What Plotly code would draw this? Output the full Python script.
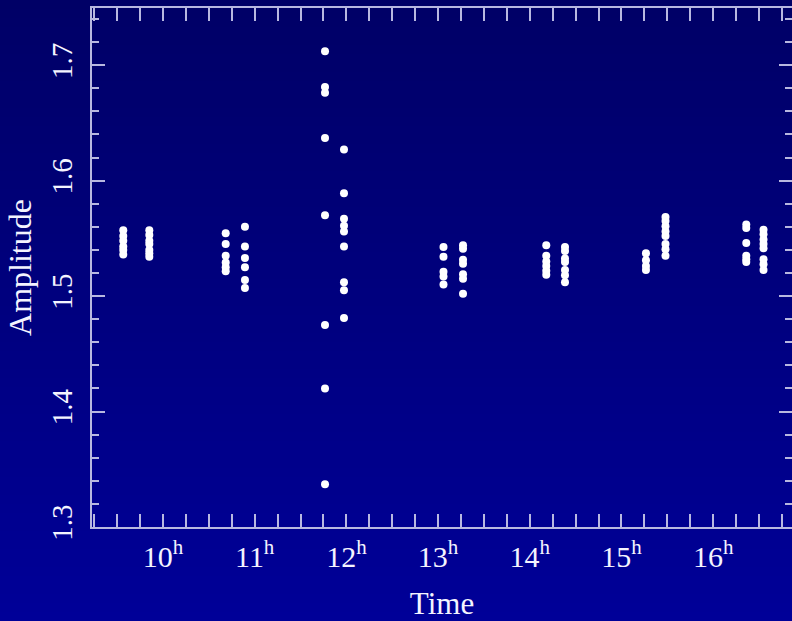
import plotly.graph_objects as go

# ---------------- data ----------------
col_times = [9.567, 9.851, 10.684, 10.894, 11.767, 11.974, 13.059,
             13.272, 14.180, 14.384, 15.267, 15.480, 16.361, 16.549]

amp_c1 = [1.557, 1.552, 1.548, 1.543, 1.540, 1.536]
amp_c2 = [1.557, 1.553, 1.548, 1.545, 1.540, 1.537, 1.534]
amp_c3 = [1.5545, 1.545, 1.535, 1.529, 1.525, 1.5215]
amp_c4 = [1.560, 1.543, 1.533, 1.525, 1.514, 1.507]
amp_c5 = [1.712, 1.681, 1.676, 1.637, 1.570, 1.475, 1.420, 1.337]
amp_c6 = [1.627, 1.589, 1.567, 1.561, 1.556, 1.543, 1.512, 1.505, 1.481]
amp_c7 = [1.5425, 1.534, 1.521, 1.517, 1.510]
amp_c8 = [1.544, 1.541, 1.5315, 1.528, 1.519, 1.515, 1.502]
amp_c9 = [1.544, 1.535, 1.530, 1.526, 1.522, 1.5185]
amp_c10 = [1.5425, 1.539, 1.5325, 1.5295, 1.5225, 1.518, 1.512]
amp_c11 = [1.537, 1.531, 1.526, 1.5225]
amp_c12 = [1.5685, 1.565, 1.5605, 1.556, 1.552, 1.545, 1.5405, 1.535]
amp_c13 = [1.562, 1.559, 1.546, 1.535, 1.532, 1.5295]
amp_c14 = [1.5575, 1.5535, 1.549, 1.545, 1.5415, 1.532, 1.5275, 1.5225]

amp_columns = [amp_c1, amp_c2, amp_c3, amp_c4, amp_c5, amp_c6, amp_c7,
               amp_c8, amp_c9, amp_c10, amp_c11, amp_c12, amp_c13, amp_c14]

hour_ticks = [10, 11, 12, 13, 14, 15, 16]
hour_text = [f"{h}<sup>h</sup>" for h in hour_ticks]

# ---------------- build figure ----------------
xs, ys = [], []
for t, amps in zip(col_times, amp_columns):
    for a in amps:
        xs.append(t)
        ys.append(a)

W, H = 792, 621
ML, MR, MT, MB = 92, 0, 8, 94
plot_h = H - MT - MB
plot_w = W - ML - MR
y_range = [1.3, 1.7495]

fig = go.Figure()
fig.add_trace(go.Scatter(
    x=xs, y=ys, mode="markers",
    marker=dict(size=8, color="white", line=dict(width=0)),
    hoverinfo="x+y", showlegend=False,
))
# empty trace so the right-hand tick-only axis is drawn
fig.add_trace(go.Scatter(x=[], y=[], yaxis="y2", showlegend=False,
                         hoverinfo="skip"))

# vertical background gradient (full page)
shapes = []
N = 69
top_b, bot_b = 0x66, 0x98
for i in range(N):
    py0 = H * i / N
    py1 = H * (i + 1) / N + 0.5
    f = (i + 0.5) / N
    b = round(top_b + (bot_b - top_b) * f)
    shapes.append(dict(
        type="rect", xref="paper", yref="paper", layer="below",
        x0=-ML / plot_w - 0.01, x1=1.01,
        y0=(H - MB - py1) / plot_h, y1=(H - MB - py0) / plot_h,
        fillcolor=f"rgb(0,0,{b})", line=dict(width=0),
    ))

axis_col = "#b8b8e0"
text_col = "#f4f4ff"
serif = "Liberation Serif, Times New Roman, serif"
tick_font = dict(family=serif, size=30, color=text_col)

fig.update_layout(
    width=W, height=H,
    margin=dict(l=ML, r=MR, t=MT, b=MB, pad=0),
    paper_bgcolor="rgb(0,0,128)",
    plot_bgcolor="rgba(0,0,0,0)",
    shapes=shapes,
    showlegend=False,
    xaxis=dict(
        range=[9.226, 9.226 + plot_w / 91.7],
        tickmode="array", tickvals=hour_ticks, ticktext=hour_text,
        ticks="inside", ticklen=13, tickwidth=2, tickcolor=axis_col,
        minor=dict(tick0=9, dtick=0.25, ticks="inside", ticklen=7,
                   tickwidth=2, tickcolor=axis_col, showgrid=False),
        showline=True, linecolor=axis_col, linewidth=2, mirror="allticks",
        showgrid=False, zeroline=False,
        tickfont=tick_font, ticklabelstandoff=2,
        title=dict(text="Time", font=dict(family=serif, size=31, color=text_col),
                   standoff=23),
    ),
    yaxis=dict(
        range=y_range,
        tick0=1.3, dtick=0.1, tickformat=".1f",
        ticks="inside", ticklen=13, tickwidth=2, tickcolor=axis_col,
        minor=dict(tick0=1.3, dtick=0.02, ticks="inside", ticklen=7,
                   tickwidth=2, tickcolor=axis_col, showgrid=False),
        showline=True, linecolor=axis_col, linewidth=2, mirror=False,
        showgrid=False, zeroline=False,
        tickangle=-90, tickfont=dict(family=serif, size=29, color=text_col),
        ticklabelstandoff=6,
        title=dict(text="Amplitude",
                   font=dict(family=serif, size=32, color=text_col),
                   standoff=5),
    ),
    yaxis2=dict(
        overlaying="y", side="right", anchor="x", range=y_range,
        tick0=1.3, dtick=0.1,
        ticks="inside", ticklen=13, tickwidth=2, tickcolor=axis_col,
        minor=dict(tick0=1.3, dtick=0.02, ticks="inside", ticklen=7,
                   tickwidth=2, tickcolor=axis_col, showgrid=False),
        showline=False, showticklabels=False, showgrid=False, zeroline=False,
    ),
)

fig.write_html("out.html")
